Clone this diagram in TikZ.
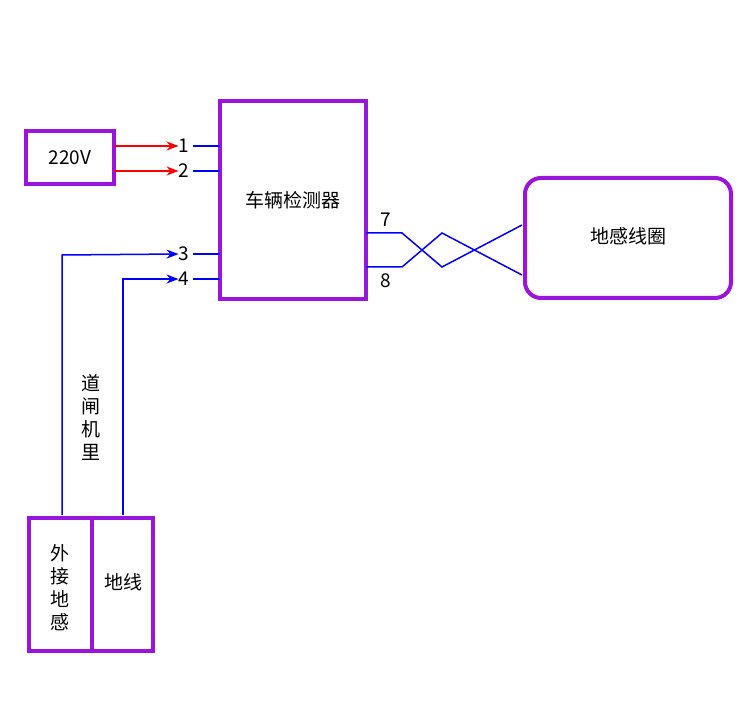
\documentclass[tikz,border=0pt]{standalone}
\usepackage{fontspec}
\newfontfamily\cjk{Noto Sans CJK SC}
\usetikzlibrary{positioning}
\usetikzlibrary{calc}
\usetikzlibrary{arrows.meta}
\definecolor{boxpurple}{RGB}{155,20,220}
\begin{document}
\begin{tikzpicture}[x=1pt,y=-1pt,
    box/.style={draw=boxpurple, line width=4pt},
    lbl/.style={font=\cjk\fontsize{19}{23}\selectfont, inner sep=0pt},
    wire/.style={draw=blue, line width=1.5pt},
    feed/.style={draw=red, line width=1.5pt, -{Stealth[length=12pt,width=9pt]}},
    sig/.style={wire, -{Stealth[length=12pt,width=9pt]}}]
    \useasboundingbox (0,0) rectangle (750,703);
    % boxes
    \draw[box] (26,131) rectangle (114,184);
    \node[lbl] (pwr) at (70,158) {220V};
    \draw[box] (220,101) rectangle (366,299);
    \node[lbl] (det) at (293,200) {车辆检测器};
    \draw[box, rounded corners=16pt] (525,178) rectangle (731,298);
    \node[lbl] (loop) at (628,236) {地感线圈};
    \draw[box] (29,518) rectangle (153,651);
    \draw[box] (92,518) -- (92,651);
    \node[lbl, align=center] (ext) at (60,588) {外\\接\\地\\感};
    \node[lbl] (gnd) at (123,582) {地线};
    \node[lbl, align=center] (gate) at (91,417) {道\\闸\\机\\里};
    % terminals
    \foreach \n/\y in {1/146,2/171,3/254,4/279} {
        \node[lbl] (t\n) at (184,\y) {\n};
        \draw[wire] (193,\y) -- (220,\y);
    }
    \coordinate (p1) at (114,146);
    \coordinate (p2) at (114,171);
    \draw[feed] (p1) -- (t1.west);
    \draw[feed] (p2) -- (t2.west);
    \draw[sig] (62,515) -- (62,255) -- (t3.west);
    \draw[sig] (123,515) -- (123,279) -- (t4.west);
    % loop wires
    \node[lbl] (t7) at (386,220) {7};
    \node[lbl] (t8) at (386,281) {8};
    \draw[wire] (366,233) -- (402,233) -- (442,267) -- (522,225);
    \draw[wire] (366,267) -- (402,267) -- (442,233) -- (522,275);
\end{tikzpicture}
\end{document}
